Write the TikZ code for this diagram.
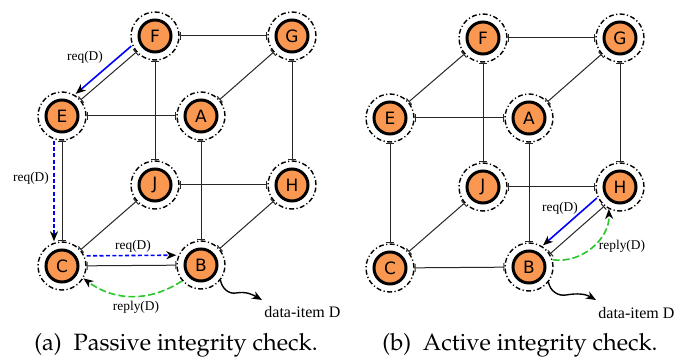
\documentclass[tikz,border=0pt]{standalone}
\usepackage{fontspec}
\newfontfamily\vtxfont{DejaVu Sans}
\newfontfamily\msgfont{Liberation Serif}
\usetikzlibrary{arrows.meta,positioning}

\definecolor{vtxorange}{RGB}{250,152,82}
\definecolor{replygreen}{RGB}{40,200,40}

\tikzset{
  ring/.style={circle,draw,line width=0.7pt,dash pattern=on 2.5pt off 1.2pt on 0.6pt off 1.2pt,minimum size=24pt,inner sep=0pt},
  vtx/.style={circle,draw,line width=1.5pt,fill=vtxorange,minimum size=16pt,inner sep=0pt,font=\vtxfont\fontsize{8.5}{9}\selectfont},
  link/.style={{Bar[width=4pt]}-{Bar[width=4pt]},line width=0.5pt,black!85},
  req/.style={-{Stealth[length=5pt,width=4pt,inset=1.5pt,color=black]},blue,line width=0.8pt},
  reply/.style={-{Stealth[length=5pt,width=4pt,inset=1.5pt,color=black]},replygreen,line width=0.8pt,dash pattern=on 3.5pt off 1.5pt},
  wave/.style={-{Stealth[length=5pt,width=4pt,inset=1.5pt]},line width=0.7pt},
  msg/.style={font=\msgfont\fontsize{6.7}{7}\selectfont,inner sep=1pt},
  item/.style={font=\msgfont\fontsize{8}{9}\selectfont,anchor=west,inner sep=0pt},
  caption/.style={font=\fontencoding{OT1}\fontfamily{ppl}\fontsize{11.8}{13}\selectfont}
}

\begin{document}
\begin{tikzpicture}[x=0.5pt,y=0.5pt]
\useasboundingbox (0,0) rectangle (675,-358);

% (a) passive
\foreach \n/\x/\y in {F/155/36,G/292/36,E/62/116,A/201/116,J/155/185,H/292/185,C/62/266,B/201/265}{
  \node[ring] (a\n) at (\x,-\y) {};
  \node[vtx] (a\n v) at (\x,-\y) {\n};
}
\foreach \s/\t in {F/G,F/E,F/J,G/A,G/H,E/A,E/C,A/B,J/H,J/C,H/B,C/B}
  \draw[link] (a\s) -- (a\t);

\draw[req,transform canvas={shift={(-5,6)}}] (aF) -- (aE);
\draw[req,dash pattern=on 2pt off 1.2pt,transform canvas={shift={(-8,0)}}] (aE) -- (aC);
\draw[req,dash pattern=on 2pt off 1.2pt,transform canvas={shift={(0,10)}}] (aC) -- (aB);
\draw[reply] (aB.220) to[bend left=35] (aC.330);

\node[msg] (areq1) at (85,-57) {req(D)};
\node[msg] (areq2) at (31,-178) {req(D)};
\node[msg] (areq3) at (133,-246) {req(D)};
\node[msg] (areply) at (136,-307) {reply(D)};

\coordinate (aw) at (236,-293);
\coordinate (at) at (262,-300);
\draw[wave] (aB.-38) to[out=-80,in=190] (aw) to[out=10,in=150] (at);
\node[item] (aitem) at (264,-312) {data-item D};

% (b) active
\foreach \n/\x/\y in {F/155/36,G/292/36,E/62/116,A/201/116,J/155/185,H/292/185,C/62/266,B/201/265}{
  \node[ring] (b\n) at (\x+328,-\y-2) {};
  \node[vtx] (b\n v) at (\x+328,-\y-2) {\n};
}
\foreach \s/\t in {F/G,F/E,F/J,G/A,G/H,E/A,E/C,A/B,J/H,J/C,C/B}
  \draw[link] (b\s) -- (b\t);
\draw[link,transform canvas={shift={(2.6,-3)}}] (bH) -- (bB);

\draw[req,transform canvas={shift={(-4.6,5.3)}}] (bH) -- (bB);
\draw[reply] (bB.17) to[bend right=50] (bH.-117);

\node[msg] (breq) at (560,-208) {req(D)};
\node[msg] (breply) at (622,-246) {reply(D)};

\coordinate (bw) at (566,-295);
\coordinate (bt) at (596,-300);
\draw[wave] (bB.-38) to[out=-80,in=190] (bw) to[out=10,in=150] (bt);
\node[item] (bitem) at (598,-313) {data-item D};

\node[caption] (capa) at (176,-345) {(a)\enspace Passive integrity check.};
\node[caption] (capb) at (520,-345) {(b)\enspace Active integrity check.};
\end{tikzpicture}
\end{document}
